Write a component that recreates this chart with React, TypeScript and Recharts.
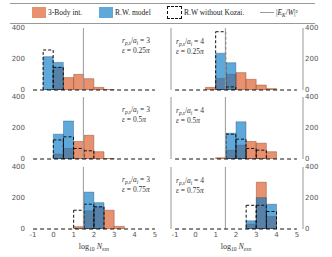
import React from "react";
import { BarChart, Bar, XAxis, YAxis, ReferenceLine } from "recharts";

// histogram bins: left edges, width 0.5 in log10 N
const bins = [-1, -0.5, 0, 0.5, 1, 1.5, 2, 2.5, 3, 3.5, 4, 4.5];
const xTicks = [-1, 0, 1, 2, 3, 4, 5];
const yTicks = [0, 200, 400];
const ekLine = 1.477;

const epsLabels = ["0.25π", "0.5π", "0.75π"];

// left column, r/a = 3
const orangeL1 = [0, 0, 146, 80, 101, 73, 17, 3, 0, 0, 0, 0];
const blueL1 = [0, 215, 178, 0, 0, 0, 0, 0, 0, 0, 0, 0];
const dashL1 = [0, 258, 146, 0, 0, 0, 0, 0, 0, 0, 0, 0];

const orangeL2 = [0, 0, 32, 68, 113, 153, 47, 3, 0, 0, 0, 0];
const blueL2 = [0, 0, 160, 245, 0, 0, 0, 0, 0, 0, 0, 0];
const dashL2 = [0, 0, 123, 143, 68, 53, 0, 0, 0, 0, 0, 0];

const orangeL3 = [0, 0, 0, 0, 15, 117, 143, 121, 17, 0, 0, 0];
const blueL3 = [0, 0, 0, 0, 0, 238, 170, 0, 0, 0, 0, 0];
const dashL3 = [0, 0, 0, 0, 121, 160, 143, 0, 0, 0, 0, 0];

// right column, r/a = 4
const orangeR1 = [0, 0, 0, 17, 75, 101, 112, 69, 32, 9, 0, 0];
const blueR1 = [0, 0, 0, 0, 237, 176, 0, 0, 0, 0, 0, 0];
const dashR1 = [0, 0, 0, 0, 376, 20, 0, 0, 0, 0, 0, 0];

const orangeR2 = [0, 0, 0, 0, 8, 57, 89, 113, 102, 47, 0, 0];
const blueR2 = [0, 0, 0, 0, 0, 166, 240, 0, 0, 0, 0, 0];
const dashR2 = [0, 0, 0, 0, 0, 160, 128, 68, 57, 0, 0, 0];

const orangeR3 = [0, 0, 0, 0, 0, 0, 0, 32, 302, 81, 0, 0];
const blueR3 = [0, 0, 0, 0, 0, 0, 0, 53, 202, 160, 0, 0];
const dashR3 = [0, 0, 0, 0, 0, 0, 0, 153, 153, 113, 0, 0];

const ORANGE = "#E2754A";
const BLUE = "#097AC6";
const PLOT_H = 62;
const PAD = 6;
const rowTops = [28, 97, 167];

const tickStyle = { fontSize: 7, fill: "#555", fontFamily: "DejaVu Sans" };
const serif = '"Liberation Serif", "DejaVu Serif", serif';

function Sub({ children }: { children: React.ReactNode }) {
  return (
    <span style={{ fontSize: "0.7em", verticalAlign: "-0.3em", lineHeight: 0 }}>
      {children}
    </span>
  );
}

interface PanelProps {
  top: number;
  side: "left" | "right";
  orange: number[];
  blue: number[];
  dashed: number[];
  bottom: boolean;
}

function Panel({ top, side, orange, blue, dashed, bottom }: PanelProps) {
  const data = bins.map((b, i) => ({
    bin: String(b),
    x: b + 0.25,
    orange: orange[i],
    blue: blue[i],
    dashed: dashed[i],
  }));
  const isLeft = side === "left";
  const height = 5 + PLOT_H + (bottom ? 14 : 5);

  return (
    <div style={{ position: "absolute", left: isLeft ? 0 : 169, top: top - 5 }}>
      <BarChart
        width={isLeft ? 161 : 163}
        height={height}
        data={data}
        margin={{ top: 5, right: 0, bottom: bottom ? 0 : 5, left: 0 }}
        barCategoryGap={0}
        barGap={0}
      >
        <XAxis
          xAxisId="num"
          type="number"
          dataKey="x"
          domain={[-1.3, 5.3]}
          allowDataOverflow
          ticks={xTicks}
          interval={0}
          hide={!bottom}
          height={14}
          tickSize={2}
          tickMargin={1}
          tickLine={false}
          axisLine={false}
          tick={tickStyle}
        />
        <XAxis xAxisId="o" dataKey="bin" orientation="top" height={0} hide padding={{ left: PAD, right: PAD }} />
        <XAxis xAxisId="b" dataKey="bin" orientation="top" height={0} hide padding={{ left: PAD, right: PAD }} />
        <XAxis xAxisId="d" dataKey="bin" orientation="top" height={0} hide padding={{ left: PAD, right: PAD }} />
        <YAxis
          orientation={isLeft ? "left" : "right"}
          width={isLeft ? 27 : 29}
          domain={[0, 400]}
          ticks={yTicks}
          interval={0}
          allowDataOverflow
          tickLine={false}
          axisLine={isLeft ? false : { stroke: "#999" }}
          tickSize={2}
          tickMargin={0}
          tick={tickStyle}
        />
        {!isLeft && <ReferenceLine xAxisId="num" x={-1.2} stroke="#999" />}
        <ReferenceLine xAxisId="num" x={ekLine} stroke="#999" strokeWidth={1} />
        <Bar
          xAxisId="o"
          dataKey="orange"
          fill={ORANGE}
          fillOpacity={0.8}
          stroke="#6b2a12"
          strokeOpacity={0.6}
          strokeWidth={0.6}
          isAnimationActive={false}
        />
        <Bar
          xAxisId="b"
          dataKey="blue"
          fill={BLUE}
          fillOpacity={0.65}
          stroke="#1d3d5c"
          strokeOpacity={0.6}
          strokeWidth={0.6}
          isAnimationActive={false}
        />
        <ReferenceLine
          xAxisId="num"
          segment={[
            { x: -1, y: 0 },
            { x: 5, y: 0 },
          ]}
          stroke="#111"
          strokeDasharray="4 3"
        />
        <Bar
          xAxisId="d"
          dataKey="dashed"
          fill="none"
          stroke="#111"
          strokeWidth={1}
          strokeDasharray="3 2"
          isAnimationActive={false}
        />
      </BarChart>
    </div>
  );
}

function Note({ left, top, ratio, eps }: { left: number; top: number; ratio: string; eps: string }) {
  return (
    <div
      style={{
        position: "absolute",
        left,
        top,
        fontFamily: serif,
        fontSize: 7.5,
        lineHeight: "10px",
        color: "#333",
        whiteSpace: "nowrap",
      }}
    >
      <i>r</i>
      <Sub>
        <i>p,s</i>
      </Sub>
      /<i>a</i>
      <Sub>
        <i>i</i>
      </Sub>{" "}
      = {ratio}
      <br />
      <i>ε</i> = {eps.replace("π", "")}
      <i>π</i>
    </div>
  );
}

function Legend() {
  const text: React.CSSProperties = {
    position: "absolute",
    top: 3,
    fontFamily: serif,
    fontSize: 7.5,
    lineHeight: "11px",
    color: "#222",
    whiteSpace: "nowrap",
  };
  return (
    <div
      style={{
        position: "absolute",
        left: 10,
        top: 3,
        width: 305,
        height: 21,
        borderTop: "1px solid #999",
        borderBottom: "1px solid #999",
        boxSizing: "border-box",
      }}
    >
      <div style={{ position: "absolute", left: 22, top: 3, width: 14, height: 11, background: ORANGE, opacity: 0.8 }} />
      <div style={{ ...text, left: 38 }}>3-Body int.</div>
      <div style={{ position: "absolute", left: 89, top: 3, width: 14, height: 11, background: BLUE, opacity: 0.65 }} />
      <div style={{ ...text, left: 105 }}>R.W. model</div>
      <div
        style={{
          position: "absolute",
          left: 157,
          top: 2,
          width: 15,
          height: 13,
          border: "1.2px dashed #111",
          boxSizing: "border-box",
        }}
      />
      <div style={{ ...text, left: 174 }}>R.W without Kozai.</div>
      <div style={{ position: "absolute", left: 250, top: 8, width: 14, height: 1, background: "#999" }} />
      <div style={{ ...text, left: 266 }}>
        |<i>E</i>
        <Sub>
          <i>K</i>
        </Sub>
        /<i>W</i>|²
      </div>
    </div>
  );
}

function XLabel({ center, sub }: { center: number; sub: string }) {
  return (
    <div
      style={{
        position: "absolute",
        left: center - 30,
        width: 60,
        top: 241,
        textAlign: "center",
        fontFamily: serif,
        fontSize: 8,
        lineHeight: "11px",
        color: "#333",
      }}
    >
      log
      <Sub>10</Sub> <i>N</i>
      <Sub>
        <i>{sub}</i>
      </Sub>
    </div>
  );
}

export default function App() {
  const left = [
    [orangeL1, blueL1, dashL1],
    [orangeL2, blueL2, dashL2],
    [orangeL3, blueL3, dashL3],
  ];
  const right = [
    [orangeR1, blueR1, dashR1],
    [orangeR2, blueR2, dashR2],
    [orangeR3, blueR3, dashR3],
  ];
  return (
    <div
      style={{
        position: "absolute",
        left: 0,
        top: 0,
        width: 332,
        height: 257,
        background: "#fff",
        overflow: "hidden",
      }}
    >
      <Legend />
      {rowTops.map((t, i) => (
        <React.Fragment key={i}>
          <Panel top={t} side="left" orange={left[i][0]} blue={left[i][1]} dashed={left[i][2]} bottom={i === 2} />
          <Panel top={t} side="right" orange={right[i][0]} blue={right[i][1]} dashed={right[i][2]} bottom={i === 2} />
          <Note left={122} top={t + 8} ratio="3" eps={epsLabels[i]} />
          <Note left={176} top={t + 9} ratio="4" eps={epsLabels[i]} />
        </React.Fragment>
      ))}
      <XLabel center={94} sub="ssn" />
      <XLabel center={236} sub="esn" />
    </div>
  );
}
